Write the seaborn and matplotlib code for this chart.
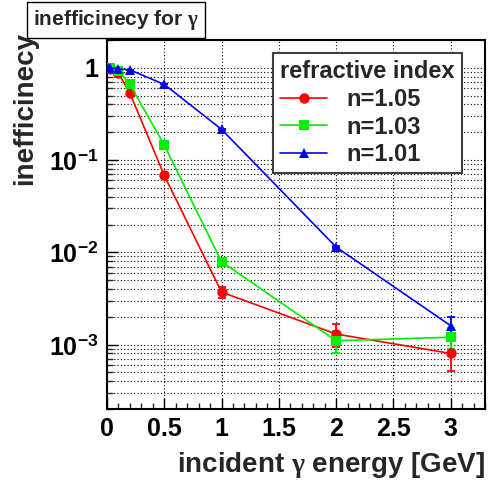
import numpy as np
import pandas as pd
import matplotlib
matplotlib.use("Agg")
import matplotlib.pyplot as plt
import seaborn as sns
from matplotlib.lines import Line2D
from matplotlib.ticker import LogLocator, MultipleLocator, FixedLocator

# incident photon energies [GeV]
energy = [0.01, 0.03, 0.1, 0.2, 0.5, 1.0, 2.0, 3.0]

ineff_105 = [1.0, 0.98, 0.87, 0.53, 0.068, 0.0037, 0.0013, 0.00080]
err_105 = [0.0, 0.0, 0.0, 0.0, 0.002, 0.0005, 0.00035, 0.00028]

ineff_103 = [1.0, 1.0, 0.92, 0.66, 0.145, 0.0079, 0.0011, 0.0012]
err_103 = [0.0, 0.0, 0.0, 0.0, 0.003, 0.0008, 0.0003, 0.0003]

ineff_101 = [1.0, 1.0, 0.97, 0.95, 0.66, 0.215, 0.0114, 0.0016]
err_101 = [0.0, 0.0, 0.0, 0.0, 0.0, 0.004, 0.0004, 0.0004]

series_labels = ["n=1.05", "n=1.03", "n=1.01"]
series_colors = ["#ff0000", "#00ee00", "#0000ff"]
series_markers = ["o", "s", "^"]

x_ticks = [0, 0.5, 1, 1.5, 2, 2.5, 3]
x_ticklabels = ["0", "0.5", "1", "1.5", "2", "2.5", "3"]
y_ticks = [1e-3, 1e-2, 1e-1, 1]
y_ticklabels = [r"$10^{-3}$", r"$10^{-2}$", r"$10^{-1}$", "1"]

sns.set_theme(style="white")
plt.rcParams["font.family"] = ["Liberation Sans", "DejaVu Sans"]
plt.rcParams["font.weight"] = "bold"
plt.rcParams["mathtext.fontset"] = "custom"
plt.rcParams["mathtext.rm"] = "Liberation Sans:bold"
plt.rcParams["mathtext.bf"] = "Liberation Sans:bold"
plt.rcParams["mathtext.it"] = "Liberation Serif"
plt.rcParams["mathtext.default"] = "it"

values = [ineff_105, ineff_103, ineff_101]
errors = [err_105, err_103, err_101]
df = pd.concat(
    [pd.DataFrame({"energy": energy, "ineff": v, "err": e, "n": lab})
     for v, e, lab in zip(values, errors, series_labels)],
    ignore_index=True,
)

W, H = 491, 482
fig = plt.figure(figsize=(W / 100, H / 100), dpi=100)
ax = fig.add_axes([107 / W, 1 - 409 / H, (485 - 107) / W, (409 - 40) / H])

palette = dict(zip(series_labels, series_colors))
markers = dict(zip(series_labels, series_markers))

# error bars first, then lines and markers on top
for lab, col in zip(series_labels, series_colors):
    d = df[df["n"] == lab]
    ax.errorbar(d["energy"], d["ineff"], yerr=d["err"], fmt="none",
                ecolor=col, elinewidth=1.3, capsize=3, capthick=1.3, zorder=2)

sns.lineplot(data=df, x="energy", y="ineff", hue="n", style="n",
             hue_order=series_labels, style_order=series_labels,
             palette=palette, markers=markers, dashes=False,
             markersize=7.5, markeredgewidth=0, linewidth=1.2,
             legend=False, ax=ax, zorder=3)

ax.set_yscale("log")
ax.set_xlim(0, 3.3)
ax.set_ylim(2e-4, 2)

ax.xaxis.set_major_locator(FixedLocator(x_ticks))
ax.set_xticklabels(x_ticklabels)
ax.xaxis.set_minor_locator(MultipleLocator(0.1))
ax.yaxis.set_major_locator(FixedLocator(y_ticks))
ax.set_yticklabels(y_ticklabels)
ax.yaxis.set_minor_locator(LogLocator(base=10, subs=np.arange(2, 10)))
ax.yaxis.set_minor_formatter(matplotlib.ticker.NullFormatter())

ax.tick_params(axis="both", which="major", direction="in", length=8,
               width=1.0, labelsize=18, colors="black", pad=6,
               bottom=True, left=True, top=False, right=False)
ax.tick_params(axis="both", which="minor", direction="in", length=4,
               width=1.0, bottom=True, left=True, top=False, right=False)
for lbl in ax.get_xticklabels() + ax.get_yticklabels():
    lbl.set_fontweight("bold")

ax.grid(True, which="major", axis="x", color="black", linestyle=(0, (1, 2)), linewidth=0.8)
ax.grid(True, which="both", axis="y", color="black", linestyle=(0, (1, 2)), linewidth=0.8)
ax.set_axisbelow(True)

for sp in ax.spines.values():
    sp.set_visible(True)
    sp.set_color("black")
    sp.set_linewidth(1.5)

ax.set_xlabel("")
ax.set_ylabel("")
fig.text(485 / W, 1 - 465 / H, r"incident $\gamma$ energy [GeV]", ha="right",
         va="center", fontsize=20, fontweight="bold")
fig.text(25 / W, 1 - 32 / H, "inefficinecy", ha="center", va="top",
         rotation=90, fontsize=20, fontweight="bold")

fig.text(116 / W, 1 - 20 / H, r"inefficinecy for $\gamma$", ha="center",
         va="center", fontsize=15, fontweight="bold",
         bbox=dict(boxstyle="square,pad=0.3", facecolor="white",
                   edgecolor="black", linewidth=1.0))

handles = [Line2D([], [], color=c, marker=m, markersize=7.5, markeredgewidth=0,
                  linewidth=1.2, label=lab)
           for lab, c, m in zip(series_labels, series_colors, series_markers)]
leg = ax.legend(handles=handles, title="refractive index", loc="upper left",
                bbox_to_anchor=((273 - 107) / 378, (409 - 53) / 369),
                borderaxespad=0, fontsize=17, title_fontsize=17,
                frameon=True, fancybox=False, framealpha=1,
                edgecolor="#404040", handlelength=2.0, handletextpad=0.8,
                labelspacing=0.2, borderpad=0.3)
leg.get_frame().set_linewidth(1.5)
leg._legend_box.align = "left"
for t in leg.get_texts():
    t.set_fontweight("bold")
leg.get_title().set_fontweight("bold")

fig.savefig("out.png", dpi=100)
